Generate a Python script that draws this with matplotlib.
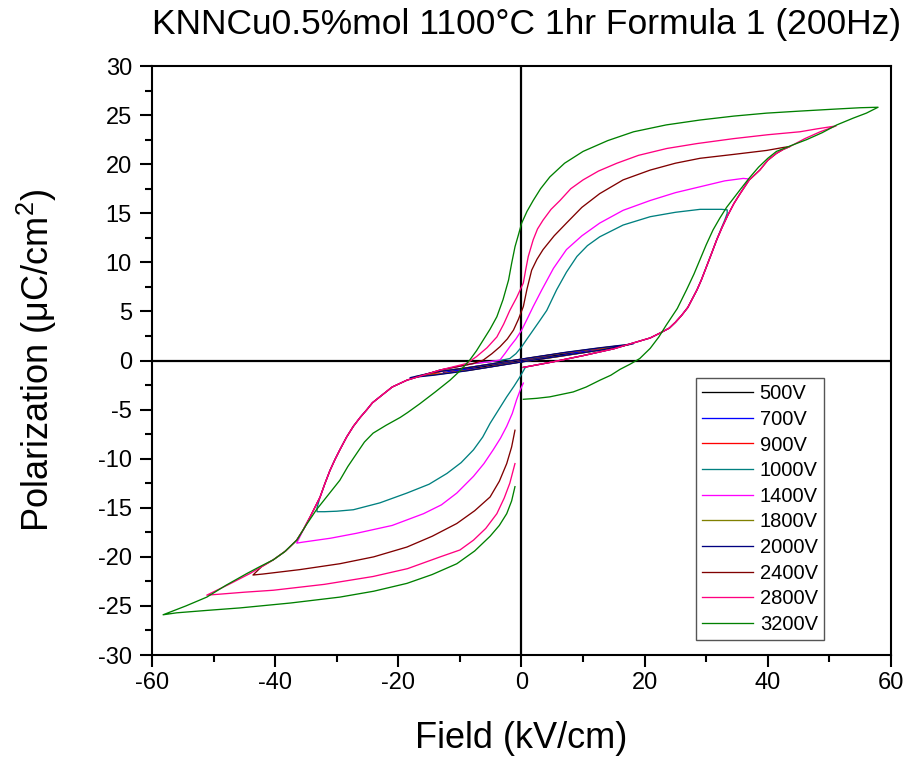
import matplotlib
matplotlib.use("Agg")
import matplotlib.pyplot as plt
from matplotlib.ticker import MultipleLocator

plt.rcParams['font.family'] = ['Liberation Sans', 'DejaVu Sans']
plt.rcParams['mathtext.default'] = 'regular'
plt.rcParams['axes.unicode_minus'] = False

# field (kV/cm) and polarization (uC/cm2), one loop per voltage
e_500 = [0, 4.5, 9, 4.5, 0, -4.5, -9, -4.5, 0]
p_500 = [-0.08, 0.35, 0.85, 0.5, 0.08, -0.37, -0.87, -0.52, -0.08]

e_700 = [0, 6.4, 12.7, 6.4, 0, -6.4, -12.7, -6.4, 0]
p_700 = [-0.1, 0.5, 1.2, 0.72, 0.1, -0.55, -1.22, -0.78, -0.1]

e_900 = [0, 6.5, 11, 16, 11, 6.5, 0, -8, -12.5, -16, -12.5, -8, 0]
p_900 = [-0.13, 0.45, 0.9, 1.5, 1.12, 0.74, 0.13, -0.66, -1.05, -1.55, -1.3, -0.93, -0.13]

e_1000 = [0.3, 5, 10, 15, 20.9, 22.5, 24, 25, 26, 27, 27.5, 28.5, 29.2, 30, 30.8, 31.7, 32.4, 33.0, 33.4, 33.4,
          32.5, 29.0, 25, 20.9, 16.5, 12.7, 10.7, 9.0, 7.3, 5.7, 4.1, 2.9, 1.9, 0.9, 0.03, -0.9, -1.9,
          -3.5, -5.5, -7.8, -13.2, -18.6, -21, -23.0, -24.2, -25.1, -26.2, -27.3, -28.4, -29.5, -30.3,
          -31.1, -31.9, -32.7, -33.2, -33.2,
          -32.0, -30, -27.3, -23, -18.6, -15, -12.1, -9.8, -7.8, -6.3, -5.1, -3.7, -2.4, -1.2, -0.24, 0.57]
p_1000 = [-0.7, -0.15, 0.5, 1.2, 2.3, 2.8, 3.3, 3.9, 4.6, 5.4, 6.0, 7.2, 8.2, 9.5, 10.8, 12.3, 13.4, 14.3, 15.0, 15.35,
          15.4, 15.4, 15.1, 14.65, 13.8, 12.6, 11.7, 10.6, 9.0, 7.2, 5.1, 4.0, 3.1, 2.2, 1.4, 0.7, 0.2,
          0.0, -0.15, -0.3, -0.97, -2.0, -2.7, -3.7, -4.3, -5.0, -5.8, -6.7, -7.8, -9.1, -10.1,
          -11.2, -12.5, -13.9, -15.0, -15.4,
          -15.4, -15.35, -15.2, -14.5, -13.5, -12.6, -11.5, -10.4, -9.1, -7.8, -6.4, -5.0, -3.7, -2.6, -1.65, -0.76]

e_1400 = [0.3, 5, 10, 15, 20.9, 22.5, 24, 25, 26, 27, 27.5, 28.5, 29.2, 30, 30.8, 31.7, 32.6, 33.5, 34.5, 35.5, 36.2, 36.9,
          36.0, 33, 29.0, 25, 20.9, 16.5, 12.7, 9.8, 7.3, 5.2, 3.3, 1.9, 0.9, 0.03, -0.9, -1.9, -2.7, -3.5,
          -5.5, -7.8, -13.2, -18.6, -21, -23.0, -24.2, -25.1, -26.2, -27.3, -28.4, -29.5, -30.3, -31.1,
          -31.9, -32.7, -33.5, -34.3, -35.4, -36.5,
          -35.5, -31, -26.8, -21, -15.9, -13, -10.5, -7.8, -6.1, -4.6, -3.4, -2.4, -1.5, -0.8, -0.2, 0.3]
p_1400 = [-0.7, -0.15, 0.5, 1.2, 2.3, 2.8, 3.3, 3.9, 4.6, 5.4, 6.0, 7.2, 8.2, 9.5, 10.8, 12.3, 13.6, 14.8, 16.0, 17.0, 17.7, 18.5,
          18.55, 18.3, 17.7, 17.1, 16.3, 15.3, 14.0, 12.7, 11.3, 9.4, 7.2, 5.5, 4.2, 3.1, 2.2, 1.4, 0.7, 0.05,
          -0.15, -0.3, -0.97, -2.0, -2.7, -3.7, -4.3, -5.0, -5.8, -6.7, -7.8, -9.1, -10.1, -11.2,
          -12.5, -13.9, -14.9, -15.9, -17.2, -18.6,
          -18.5, -18.1, -17.6, -16.8, -15.6, -14.7, -13.5, -11.8, -10.5, -9.1, -7.9, -6.7, -5.4, -4.0, -3.0, -2.3]

e_1800 = [0, 7, 12, 17.3, 12, 7, 0, -8.5, -13.5, -17.3, -13.5, -8.5, 0]
p_1800 = [-0.14, 0.5, 0.98, 1.6, 1.22, 0.8, 0.14, -0.7, -1.12, -1.65, -1.4, -1.0, -0.14]

e_2000 = [0, 7.3, 12.75, 18.15, 12.75, 7.3, 0, -8.9, -14.3, -18.1, -14.3, -8.9, 0]
p_2000 = [-0.15, 0.55, 1.05, 1.7, 1.3, 0.85, 0.15, -0.75, -1.2, -1.75, -1.5, -1.05, -0.15]

e_2400 = [0.3, 5, 10, 15, 20.9, 22.5, 24, 25, 26, 27, 27.5, 28.5, 29.2, 30, 30.8, 31.7, 32.6, 33.5, 34.5, 35.5,
          37, 38.7, 40, 41.4, 42.5, 43.6,
          42.5, 39.8, 34.5, 29.0, 25, 20.9, 16.5, 12.7, 9.8, 7.3, 5.3, 3.5, 2.5, 1.65, 0.9, 0.3, -0.5, -1.3,
          -2.3, -3.5, -4.8, -6.2, -7.8, -13.2, -18.6, -21, -23.0, -24.2, -25.1, -26.2, -27.3, -28.4, -29.5,
          -30.3, -31.1, -31.9, -32.7, -33.5, -34.3, -35.4, -36.5, -38.3, -40.3, -42.2, -43.6,
          -42.0, -36, -29.5, -24, -18.6, -14.5, -10.5, -7.6, -5.1, -3.6, -2.4, -1.6, -1.06]
p_2400 = [-0.7, -0.15, 0.5, 1.2, 2.3, 2.8, 3.3, 3.9, 4.6, 5.4, 6.0, 7.2, 8.2, 9.5, 10.8, 12.3, 13.6, 14.8, 16.0, 17.0,
          18.4, 19.4, 20.4, 21.1, 21.5, 21.8,
          21.7, 21.4, 21.0, 20.6, 20.1, 19.4, 18.4, 17.0, 15.6, 14.0, 12.7, 11.3, 10.3, 9.2, 7.3, 5.5, 4.2, 3.1,
          2.2, 1.4, 0.7, 0.05, -0.3, -0.97, -2.0, -2.7, -3.7, -4.3, -5.0, -5.8, -6.7, -7.8, -9.1,
          -10.1, -11.2, -12.5, -13.9, -14.9, -15.9, -17.2, -18.3, -19.4, -20.3, -21.0, -21.85,
          -21.75, -21.3, -20.7, -20.0, -19.0, -17.9, -16.6, -15.3, -13.9, -12.3, -10.5, -8.8, -7.1]

e_2800 = [0.3, 5, 10, 15, 20.9, 22.5, 24, 25, 26, 27, 27.5, 28.5, 29.2, 30, 30.8, 31.7, 32.6, 33.5, 34.5, 35.5,
          37, 38.7, 40, 41.4, 42.5, 43.6, 46, 48.5, 51.1,
          48, 45.2, 40, 34.4, 28.5, 23.6, 19, 15.5, 12.5, 10.0, 8, 6.25, 4.8, 3.5, 2.6, 1.9, 1.1, 0.7, 0.3,
          -0.8, -1.9, -2.9, -4.0, -5.6, -7.3, -8.9, -13.2, -18.6, -21, -23.0, -24.2, -25.1, -26.2, -27.3,
          -28.4, -29.5, -30.3, -31.1, -31.9, -32.7, -33.5, -34.3, -35.4, -36.5, -38.3, -40.3, -42.2, -44.1,
          -47.5, -51.1,
          -49, -45, -40.3, -32, -24.1, -18.5, -13.2, -10, -7.8, -5.8, -4.0, -2.8, -1.9, -1.06]
p_2800 = [-0.7, -0.15, 0.5, 1.2, 2.3, 2.8, 3.3, 3.9, 4.6, 5.4, 6.0, 7.2, 8.2, 9.5, 10.8, 12.3, 13.6, 14.8, 16.0, 17.0,
          18.4, 19.4, 20.4, 21.1, 21.5, 21.8, 22.6, 23.3, 23.9,
          23.6, 23.3, 23.0, 22.6, 22.1, 21.6, 20.9, 20.1, 19.3, 18.4, 17.5, 16.3, 15.4, 14.3, 13.4, 12.3, 10.6, 9.3, 7.9,
          6.4, 5.1, 3.7, 2.4, 1.3, 0.4, -0.3, -0.97, -2.0, -2.7, -3.7, -4.3, -5.0, -5.8, -6.7,
          -7.8, -9.1, -10.1, -11.2, -12.5, -13.9, -14.9, -15.9, -17.2, -18.3, -19.4, -20.3, -21.0, -21.7,
          -22.8, -23.9,
          -23.8, -23.6, -23.4, -22.8, -22.0, -21.2, -20.0, -19.3, -18.3, -17.1, -15.6, -14.0, -12.5, -10.5]

e_3200 = [0.3, 2.5, 4.6, 8.4, 10.5, 12.75, 14.5, 16, 17.7, 19.2, 20.9, 22.3, 23.5, 25.3, 26.8, 28, 29, 30,
          31.1, 32.2, 33.3, 35.5, 37, 38.5, 40, 41.4, 43.8, 46.3, 48.8, 51.2, 53.9, 56, 57.9,
          55, 50.6, 45, 39.8, 34.5, 29.0, 23.5, 18.2, 14, 10.0, 7, 4.6, 3.1, 1.9, 0.9, 0.03, -0.5, -1.05,
          -1.6, -2.1, -3.0, -4.0, -5.1, -6.2, -7.3, -8.4, -9.9, -11.6, -14, -16.5, -18.5, -19.7, -22, -24.1,
          -25.5, -26.8, -28.2, -29.5, -31.4, -33.3, -35, -36.5, -38.5, -40.3, -42.5, -44.6, -48, -51.1,
          -54.5, -58.2,
          -56, -51, -45.7, -37.5, -29.5, -24, -18.6, -14.5, -10.5, -7.6, -5.1, -3.6, -2.4, -1.6, -1.06]
p_3200 = [-3.95, -3.85, -3.7, -3.2, -2.7, -2.0, -1.5, -0.9, -0.35, 0.2, 1.24, 2.4, 3.6, 5.3, 7.2, 8.8, 10.3, 11.8,
          13.3, 14.5, 15.6, 17.4, 18.6, 19.7, 20.6, 21.3, 21.9, 22.5, 23.2, 24.0, 24.7, 25.2, 25.8,
          25.75, 25.6, 25.4, 25.2, 24.9, 24.5, 24.0, 23.3, 22.4, 21.3, 20.1, 18.7, 17.5, 16.3, 15.2, 14.0, 12.8, 11.6,
          9.9, 8.2, 6.2, 4.46, 3.2, 2.1, 1.0, 0.05, -1.0, -2.0, -3.2, -4.4, -5.3, -5.8, -6.6, -7.4,
          -8.3, -9.5, -10.8, -12.2, -13.7, -15.2, -16.8, -18.3, -19.5, -20.3, -21.0, -21.7, -22.9, -24.1,
          -25.0, -25.9,
          -25.7, -25.45, -25.2, -24.7, -24.1, -23.5, -22.7, -21.8, -20.7, -19.4, -17.9, -16.8, -15.6, -14.3, -12.85]

labels = ['500V', '700V', '900V', '1000V', '1400V', '1800V', '2000V', '2400V', '2800V', '3200V']
fields = [e_500, e_700, e_900, e_1000, e_1400, e_1800, e_2000, e_2400, e_2800, e_3200]
pols = [p_500, p_700, p_900, p_1000, p_1400, p_1800, p_2000, p_2400, p_2800, p_3200]
colors = ['#000000', '#0000ff', '#ff0000', '#008080', '#ff00ff', '#808000',
          '#000080', '#800000', '#ff0080', '#008000']

fig = plt.figure(figsize=(9.09, 7.57), dpi=100)
ax = fig.add_axes([0.1672, 0.1347, 0.8130, 0.7781])

ax.axhline(0, color='black', lw=1.6, zorder=1)
ax.axvline(0, color='black', lw=1.6, zorder=1)

for e, p, c, lab in zip(fields, pols, colors, labels):
    ax.plot(e, p, color=c, lw=0.95, label=lab, zorder=2)

ax.set_xlim(-60, 60)
ax.set_ylim(-30, 30)
ax.xaxis.set_major_locator(MultipleLocator(20))
ax.xaxis.set_minor_locator(MultipleLocator(10))
ax.yaxis.set_major_locator(MultipleLocator(5))
ax.yaxis.set_minor_locator(MultipleLocator(2.5))
ax.tick_params(which='major', direction='out', length=8.5, width=1.5, labelsize=17, pad=4)
ax.tick_params(which='minor', direction='out', length=5, width=1.5)
ax.tick_params(axis='y', which='major', pad=6)
for s in ax.spines.values():
    s.set_linewidth(1.5)

ax.set_xlabel('Field (kV/cm)', fontsize=26, labelpad=19)
ax.set_ylabel('Polarization (μC/cm$^2$)', fontsize=26, labelpad=28)
ax.set_title('KNNCu0.5%mol 1100°C 1hr Formula 1 (200Hz)', fontsize=25.5, pad=23, x=0.507)

leg = ax.legend(loc='upper right', bbox_to_anchor=(0.909, 0.470), fontsize=14.5,
                frameon=True, fancybox=False, edgecolor='#555555', framealpha=1,
                handlelength=2.5, handletextpad=0.35, labelspacing=0.33,
                borderpad=0.3, borderaxespad=0)
leg.get_frame().set_linewidth(1.0)

fig.savefig('out.png', dpi=100)
